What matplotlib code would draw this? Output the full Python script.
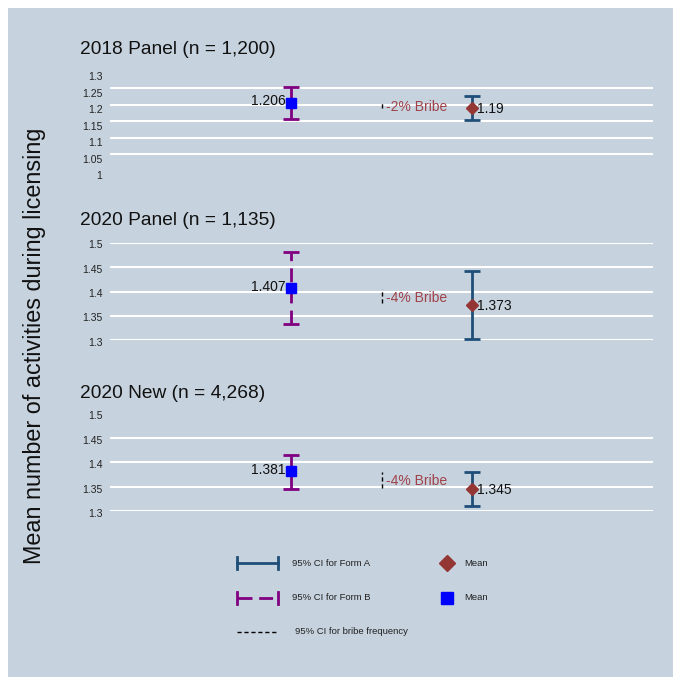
import matplotlib
matplotlib.use("Agg")
import matplotlib.pyplot as plt
import matplotlib.transforms as mtransforms
from matplotlib.lines import Line2D
from matplotlib.patches import Rectangle

plt.rcParams["font.family"] = ["Liberation Sans", "DejaVu Sans"]

# ---- data -------------------------------------------------------------
panel_titles = ["2018 Panel (n = 1,200)", "2020 Panel (n = 1,135)", "2020 New (n = 4,268)"]

form_b_mean = [1.206, 1.407, 1.381]
form_b_low = [1.157, 1.334, 1.345]
form_b_high = [1.255, 1.480, 1.415]

form_a_mean = [1.19, 1.373, 1.345]
form_a_low = [1.153, 1.303, 1.310]
form_a_high = [1.227, 1.442, 1.379]

bribe_low = [1.191, 1.376, 1.347]
bribe_high = [1.204, 1.405, 1.380]
bribe_labels = ["-2% Bribe", "-4% Bribe", "-4% Bribe"]

y_limits = [(1.0, 1.3), (1.3, 1.5), (1.3, 1.5)]
y_ticks = [
    [1.0, 1.05, 1.1, 1.15, 1.2, 1.25, 1.3],
    [1.3, 1.35, 1.4, 1.45, 1.5],
    [1.3, 1.35, 1.4, 1.45, 1.5],
]
grid_levels = [
    [1.05, 1.1, 1.15, 1.2, 1.25],
    [1.3, 1.35, 1.4, 1.45, 1.5],
    [1.3, 1.35, 1.4, 1.45],
]
tick_label_shift = [4.5, 1.5, 2.0]  # pixels downward

# ---- styling ----------------------------------------------------------
BG = "#c6d2dd"
COL_A = "#1f4e79"
COL_B = "#800080"
COL_DIAMOND = "#943634"
COL_SQUARE = "#0000ff"
COL_BRIBE = "#a0424a"
DASH_B = (0, (5, 2.6))

W, H = 673, 677
fig = plt.figure(figsize=(W / 100, H / 100), dpi=100)
fig.patch.set_facecolor("white")
fig.patches.append(Rectangle((8 / W, 0), 1 - 8 / W, 1 - 8 / H,
                             transform=fig.transFigure, facecolor=BG,
                             edgecolor="none", zorder=-10))

x_left, x_right = 110, 653
# (top pixel, bottom pixel) of each panel's plotting region
panel_pix = [(71.8, 170.5), (242.7, 340.3), (413.2, 511.0)]
title_pix = [50, 220, 393]

X_B, X_BRIBE, X_A = 1.0, 1.5, 2.0

def fig_rect(x0, x1, top, bottom):
    return [x0 / W, 1 - bottom / H, (x1 - x0) / W, (bottom - top) / H]

for i in range(3):
    top, bottom = panel_pix[i]
    ax = fig.add_axes(fig_rect(x_left, x_right, top, bottom))
    ax.set_facecolor("none")
    ax.set_xlim(0, 3)
    ax.set_ylim(*y_limits[i])
    for s in ax.spines.values():
        s.set_visible(False)
    ax.set_xticks([])
    ax.set_yticks(y_ticks[i])
    ax.set_yticklabels([f"{t:g}" for t in y_ticks[i]])
    ax.tick_params(axis="y", length=0, pad=5.5, labelsize=7.5, colors="#222222")
    off = mtransforms.ScaledTranslation(0, -tick_label_shift[i] / 100, fig.dpi_scale_trans)
    for lab in ax.get_yticklabels():
        lab.set_transform(lab.get_transform() + off)

    for g in grid_levels[i]:
        ax.axhline(g, color="white", lw=1.5, zorder=1)

    # Form B: dashed purple CI + blue square mean
    eb = ax.errorbar([X_B], [form_b_mean[i]],
                     yerr=[[form_b_mean[i] - form_b_low[i]], [form_b_high[i] - form_b_mean[i]]],
                     fmt="none", ecolor=COL_B, elinewidth=2, capsize=5.5, capthick=2, zorder=3)
    eb[2][0].set_linestyle(DASH_B)
    ax.plot([X_B], [form_b_mean[i]], marker="s", ms=7, color=COL_SQUARE, ls="none", zorder=4)
    ax.annotate(f"{form_b_mean[i]:g}", (X_B, form_b_mean[i]), xytext=(-4, 1),
                textcoords="offset points", ha="right", va="center", fontsize=10, color="#111111")

    # Form A: solid blue CI + red diamond mean
    ax.errorbar([X_A], [form_a_mean[i]],
                yerr=[[form_a_mean[i] - form_a_low[i]], [form_a_high[i] - form_a_mean[i]]],
                fmt="none", ecolor=COL_A, elinewidth=2, capsize=5.5, capthick=2, zorder=3)
    ax.plot([X_A], [form_a_mean[i]], marker="D", ms=6.5, color=COL_DIAMOND, ls="none", zorder=4)
    ax.annotate(f"{form_a_mean[i]:g}", (X_A, form_a_mean[i]), xytext=(3.5, -1),
                textcoords="offset points", ha="left", va="center", fontsize=10, color="#111111")

    # bribe frequency CI
    ax.plot([X_BRIBE, X_BRIBE], [bribe_low[i], bribe_high[i]], color="black",
            lw=1, ls=(0, (3, 2)), zorder=3)
    ax.annotate(bribe_labels[i], (X_BRIBE, (bribe_low[i] + bribe_high[i]) / 2),
                xytext=(3, -1), textcoords="offset points", ha="left", va="center",
                fontsize=10, color=COL_BRIBE)

    fig.text(80 / W, 1 - title_pix[i] / H, panel_titles[i], fontsize=13.8,
             ha="left", va="center", color="#111111")

fig.text(35 / W, 1 - 346 / H, "Mean number of activities during licensing",
         rotation=90, fontsize=16.8, ha="center", va="center", color="#111111")

# ---- legend -----------------------------------------------------------
lax = fig.add_axes([0, 0, 1, 1])
lax.set_xlim(0, W)
lax.set_ylim(H, 0)
lax.axis("off")
lax.patch.set_visible(False)

rows = [563, 598, 632]
lx0, lx1 = 237, 278
cap = 6
lax.add_line(Line2D([lx0, lx1], [rows[0], rows[0]], color=COL_A, lw=2))
lax.add_line(Line2D([lx0, lx1], [rows[1], rows[1]], color=COL_B, lw=2,
                    ls=(0, (5.4, 2.4, 5, 10))))
for r, c in [(rows[0], COL_A), (rows[1], COL_B)]:
    for xx in (lx0, lx1):
        lax.add_line(Line2D([xx, xx], [r - cap, r + cap], color=c, lw=2))
lax.add_line(Line2D([lx0, lx1], [rows[2], rows[2]], color="black", lw=1, ls=(0, (3, 2))))

lax.text(292, rows[0], "95% CI for Form A", fontsize=6.8, va="center", ha="left", color="#222222")
lax.text(292, rows[1], "95% CI for Form B", fontsize=6.8, va="center", ha="left", color="#222222")
lax.text(295, rows[2], "95% CI for bribe frequency", fontsize=6.8, va="center", ha="left", color="#222222")

lax.plot([447], [rows[0]], marker="D", ms=8, color=COL_DIAMOND, ls="none")
lax.plot([447], [rows[1]], marker="s", ms=8, color=COL_SQUARE, ls="none")
lax.text(464, rows[0], "Mean", fontsize=6.8, va="center", ha="left", color="#222222")
lax.text(464, rows[1], "Mean", fontsize=6.8, va="center", ha="left", color="#222222")

fig.savefig("out.png", dpi=100, facecolor=fig.get_facecolor())
